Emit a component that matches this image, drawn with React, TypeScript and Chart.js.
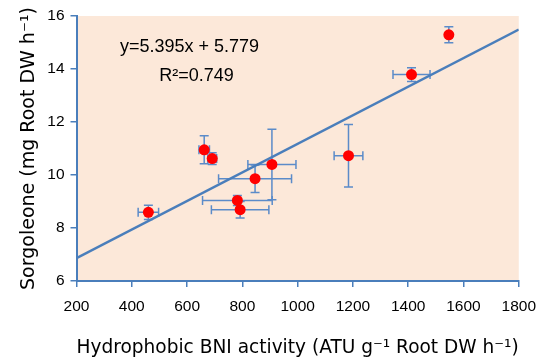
import React, { useEffect, useRef } from "react";
import { Chart, registerables } from "chart.js";

Chart.register(...registerables);

const bniX = [460, 662, 691, 907, 846, 782, 792, 1184, 1412, 1547];
const sorgY = [8.59, 10.95, 10.62, 10.4, 9.86, 9.04, 8.69, 10.73, 13.79, 15.29];
const xErr = [37, 19, 16, 87, 132, 126, 104, 52, 67, 0];
const yErr = [0.27, 0.53, 0.22, 1.33, 0.52, 0.19, 0.31, 1.18, 0.26, 0.3];
const trendX = [200, 1800];
const trendY = [6.858, 15.49];
const eqLine1 = "y=5.395x + 5.779";
const eqLine2 = "R²=0.749";
const xTitle = "Hydrophobic BNI activity (ATU g⁻¹ Root DW h⁻¹)";
const yTitle = "Sorgoleone (mg Root DW h⁻¹)";

const AXIS = "#4A7EBB";
const ERR = "#5B8BC9";
const FONT = "'Liberation Sans', Arial, sans-serif";
const TFONT = "'DejaVu Sans', sans-serif";

export default function App() {
  const ref = useRef<HTMLCanvasElement>(null);
  useEffect(() => {
    document.body.style.margin = "0";
    const canvas = ref.current!;
    const bgPlugin = {
      id: "bg",
      beforeDraw(chart: any) {
        const { ctx, chartArea: a } = chart;
        ctx.save();
        ctx.fillStyle = "#FCE8D9";
        ctx.fillRect(a.left, a.top, a.right - a.left, a.bottom - a.top);
        ctx.restore();
      },
    };
    const errPlugin = {
      id: "err",
      beforeDatasetDraw(chart: any, args: any) {
        if (args.index !== 1) return;
        const { ctx, scales } = chart;
        const xs = scales.x, ys = scales.y;
        ctx.save();
        ctx.strokeStyle = ERR;
        ctx.lineWidth = 1.5;
        const cap = 4.5;
        bniX.forEach((x, i) => {
          const y = sorgY[i];
          const px = xs.getPixelForValue(x);
          const py = ys.getPixelForValue(y);
          if (yErr[i] > 0) {
            const t = ys.getPixelForValue(y + yErr[i]);
            const b = ys.getPixelForValue(y - yErr[i]);
            ctx.beginPath();
            ctx.moveTo(px, t); ctx.lineTo(px, b);
            ctx.moveTo(px - cap, t); ctx.lineTo(px + cap, t);
            ctx.moveTo(px - cap, b); ctx.lineTo(px + cap, b);
            ctx.stroke();
          }
          if (xErr[i] > 0) {
            const l = xs.getPixelForValue(x - xErr[i]);
            const r = xs.getPixelForValue(x + xErr[i]);
            ctx.beginPath();
            ctx.moveTo(l, py); ctx.lineTo(r, py);
            ctx.moveTo(l, py - cap); ctx.lineTo(l, py + cap);
            ctx.moveTo(r, py - cap); ctx.lineTo(r, py + cap);
            ctx.stroke();
          }
        });
        ctx.restore();
      },
    };
    const eqPlugin = {
      id: "eq",
      afterDraw(chart: any) {
        const { ctx, chartArea: a } = chart;
        ctx.save();
        ctx.fillStyle = "#000";
        ctx.font = `18px ${FONT}`;
        ctx.textAlign = "center";
        ctx.textBaseline = "alphabetic";
        ctx.fillText(eqLine1, a.left + 113, a.top + 36);
        ctx.fillText(eqLine2, a.left + 120, a.top + 65);
        ctx.restore();
      },
    };
    const chart = new Chart(canvas, {
      type: "scatter",
      data: {
        datasets: [
          {
            type: "line",
            data: trendX.map((x, i) => ({ x, y: trendY[i] })),
            borderColor: AXIS,
            borderWidth: 2.5,
            pointRadius: 0,
            fill: false,
          } as any,
          {
            data: bniX.map((x, i) => ({ x, y: sorgY[i] })),
            backgroundColor: "#FF0000",
            borderColor: "#FF0000",
            pointRadius: 5.5,
            borderWidth: 0,
          },
        ],
      },
      options: {
        animation: false,
        responsive: false,
        maintainAspectRatio: false,
        layout: { padding: { left: 0, right: 24.5, top: 16, bottom: 0 } },
        plugins: { legend: { display: false }, tooltip: { enabled: false } },
        scales: {
          x: {
            type: "linear",
            min: 200,
            max: 1800,
            afterFit: (s: any) => { s.height = 80; },
            ticks: { stepSize: 200, color: "#000", font: { family: FONT, size: 15.5 }, padding: 10, callback: (v: any) => String(v) },
            grid: { drawOnChartArea: false, drawTicks: true, tickLength: 6, color: AXIS, lineWidth: 1.5 },
            border: { display: true, color: AXIS, width: 2 },
            title: { display: true, text: xTitle, color: "#000", font: { family: TFONT, size: 19 }, padding: { top: 0, bottom: 2 } },
          },
          y: {
            min: 6,
            max: 16,
            afterFit: (s: any) => { s.width = 76.5; },
            ticks: { stepSize: 2, color: "#000", font: { family: FONT, size: 15.5 }, padding: 6, callback: (v: any) => String(v) },
            grid: { drawOnChartArea: false, drawTicks: true, tickLength: 6, color: AXIS, lineWidth: 1.5 },
            border: { display: true, color: AXIS, width: 2 },
            title: { display: true, text: yTitle, color: "#000", font: { family: TFONT, size: 19 }, padding: { top: 18, bottom: 0 } },
          },
        },
      },
      plugins: [bgPlugin, errPlugin, eqPlugin],
    });
    return () => chart.destroy();
  }, []);
  return <canvas ref={ref} width={546} height={361} style={{ display: "block" }} />;
}
